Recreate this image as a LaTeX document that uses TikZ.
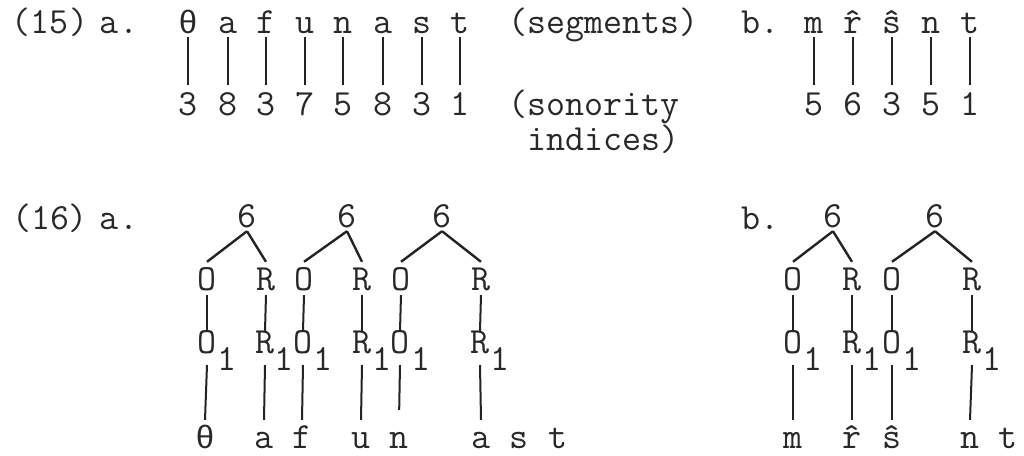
\documentclass[tikz,border=0pt]{standalone}
\usepackage{fontspec}
\newfontfamily\thfont{Liberation Mono}
\newcommand{\thet}{{\thfont\fontsize{32.3}{38}\selectfont θ}}
\definecolor{ink}{RGB}{40,40,40}
\definecolor{lineink}{RGB}{35,35,35}
\begin{document}
\begin{tikzpicture}[x=1pt,y=-1pt,
  every node/.style={inner sep=0pt, anchor=base, text=ink,
    font=\ttfamily\fontsize{36.9}{44}\selectfont},
  toprow/.style={text height=21pt, text depth=4pt},
  numrow/.style={text height=30pt, text depth=4pt},
  sixrow/.style={text height=21pt, text depth=4pt},
  orrow/.style={text height=28pt, text depth=5pt},
  midrow/.style={text height=22pt, text depth=12pt},
  botrow/.style={text height=28pt, text depth=0pt},
  conn/.style={draw=lineink, line width=2pt},
  branch/.style={draw=lineink, line width=2.4pt},
]
\useasboundingbox (0,0) rectangle (1024,455);

% ---------- (15) ----------
\node (l15) at (50,33) {(15)};
\node (a15) at (119,33) {a.};
\node[toprow] (sa1) at (188,33) {\thet};
\node[toprow] (sa2) at (228,33) {a};
\node[toprow] (sa3) at (266,33) {f};
\node[toprow] (sa4) at (305,33) {u};
\node[toprow] (sa5) at (343,33) {n};
\node[toprow] (sa6) at (383,33) {a};
\node[toprow] (sa7) at (422,33) {s};
\node[toprow] (sa8) at (460,33) {t};
\node[numrow] (na1) at (188,115) {3};
\node[numrow] (na2) at (228,115) {8};
\node[numrow] (na3) at (266,115) {3};
\node[numrow] (na4) at (305,115) {7};
\node[numrow] (na5) at (343,115) {5};
\node[numrow] (na6) at (383,115) {8};
\node[numrow] (na7) at (422,115) {3};
\node[numrow] (na8) at (460,115) {1};
\foreach \i in {1,...,8} \draw[conn] (sa\i.south) -- (na\i.north);

\node[anchor=base west] (segm) at (508,33) {(segments)};
\node[anchor=base west] (son) at (508,115) {(sonority};
\node[anchor=base west] (ind) at (527.4,150) {indices)};

\node (b15) at (760,33) {b.};
\node[toprow] (sb1) at (814,33) {m};
\node[toprow] (sb2) at (853,33) {\^{r}};
\node[toprow] (sb3) at (892,33) {ŝ};
\node[toprow] (sb4) at (931,33) {n};
\node[toprow] (sb5) at (970,33) {t};
\node[numrow] (nb1) at (814,115) {5};
\node[numrow] (nb2) at (853,115) {6};
\node[numrow] (nb3) at (892,115) {3};
\node[numrow] (nb4) at (931,115) {5};
\node[numrow] (nb5) at (970,115) {1};
\foreach \i in {1,...,5} \draw[conn] (sb\i.south) -- (nb\i.north);

% ---------- (16) a. ----------
\node (l16) at (50,229) {(16)};
\node (a16) at (119,229) {a.};
\node[sixrow] (x1) at (247,227) {6};
\node[sixrow] (x2) at (347,227) {6};
\node[sixrow] (x3) at (442,227) {6};
\node[orrow] (o1) at (207,290) {O};
\node[orrow] (r1) at (266,290) {R};
\node[orrow] (o2) at (304,290) {O};
\node[orrow] (r2) at (362,290) {R};
\node[orrow] (o3) at (401,290) {O};
\node[orrow] (r3) at (481,290) {R};
\node[midrow] (p1) at (207,353) {O};
\node (p1s) at (227,370) {1};
\node[midrow] (q1) at (265,353) {R};
\node (q1s) at (284,370) {1};
\node[midrow] (p2) at (303,353) {O};
\node (p2s) at (323,370) {1};
\node[midrow] (q2) at (362,353) {R};
\node (q2s) at (382,370) {1};
\node[midrow] (p3) at (400,353) {O};
\node (p3s) at (421,370) {1};
\node[midrow] (q3) at (480,353) {R};
\node (q3s) at (500,370) {1};
\node[botrow] (t1) at (205,448) {\thet};
\node[botrow] (t2) at (264,448) {a};
\node[botrow] (t3) at (302,448) {f};
\node[botrow] (t4) at (361,448) {u};
\node[botrow] (t5) at (399,448) {n};
\node[botrow] (t6) at (481,448) {a};
\node[botrow] (t7) at (519,448) {s};
\node[botrow] (t8) at (558,448) {t};
\foreach \i in {1,2,3} {
  \draw[branch] (x\i.south) -- (o\i.north);
  \draw[branch] (x\i.south) -- (r\i.north);
  \draw[conn] (o\i.south) -- (p\i.north);
  \draw[conn] (r\i.south) -- (q\i.north);
}
\draw[conn] (p1.south) -- (t1.north);
\draw[conn] (q1.south) -- (t2.north);
\draw[conn] (p2.south) -- (t3.north);
\draw[conn] (q2.south) -- (t4.north);
\draw[conn, shorten >=10pt] (p3.south) -- (t5.north);
\draw[conn] (q3.south) -- (t6.north);

% ---------- (16) b. ----------
\node (b16) at (760,229) {b.};
\node[sixrow] (y1) at (833,227) {6};
\node[sixrow] (y2) at (935,227) {6};
\node[orrow] (o4) at (793,290) {O};
\node[orrow] (r4) at (852,290) {R};
\node[orrow] (o5) at (892,290) {O};
\node[orrow] (r5) at (972,290) {R};
\node[midrow] (p4) at (793,353) {O};
\node (p4s) at (813,370) {1};
\node[midrow] (q4) at (852,353) {R};
\node (q4s) at (872,370) {1};
\node[midrow] (p5) at (892,353) {O};
\node (p5s) at (912,370) {1};
\node[midrow] (q5) at (972,353) {R};
\node (q5s) at (992,370) {1};
\node[botrow] (u1) at (793,448) {m};
\node[botrow] (u2) at (852,448) {\^{r}};
\node[botrow] (u3) at (892,448) {ŝ};
\node[botrow] (u4) at (970,448) {n};
\node[botrow] (u5) at (1008,448) {t};
\draw[branch] (y1.south) -- (o4.north);
\draw[branch] (y1.south) -- (r4.north);
\draw[branch] (y2.south) -- (o5.north);
\draw[branch] (y2.south) -- (r5.north);
\draw[conn] (o4.south) -- (p4.north);
\draw[conn] (r4.south) -- (q4.north);
\draw[conn] (o5.south) -- (p5.north);
\draw[conn] (r5.south) -- (q5.north);
\draw[conn] (p4.south) -- (u1.north);
\draw[conn] (q4.south) -- (u2.north);
\draw[conn] (p5.south) -- (u3.north);
\draw[conn] (q5.south) -- (u4.north);
\end{tikzpicture}
\end{document}
